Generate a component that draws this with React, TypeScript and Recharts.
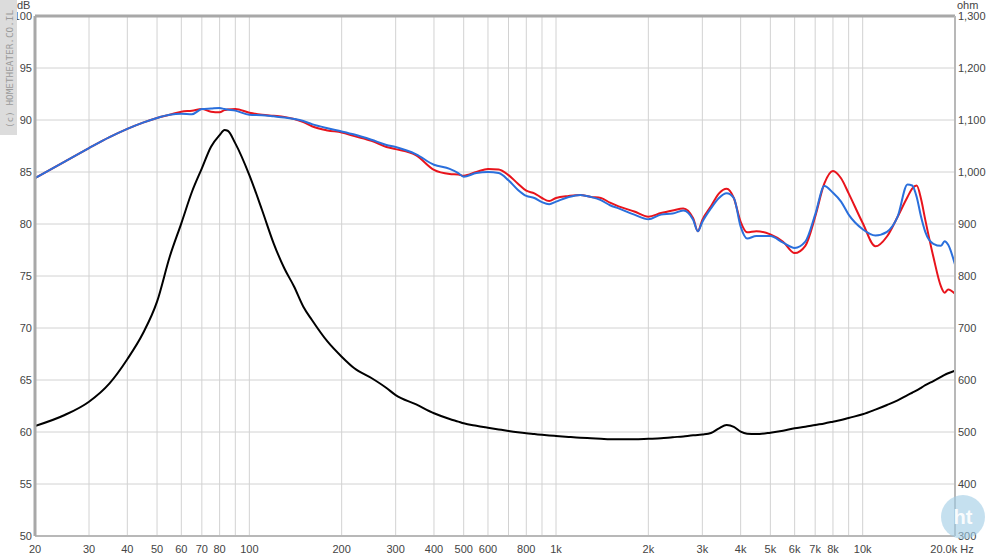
import {
  LineChart,
  Line,
  XAxis,
  YAxis,
  CartesianGrid,
  ReferenceLine,
} from "recharts";

// frequency points (Hz)
const freqs = [
  20, 25, 30, 35, 40, 45, 50, 55, 60, 65, 70, 75, 80, 83, 85, 90, 100, 110, 120,
  130, 140, 150, 160, 180, 200, 220, 250, 280, 300, 350, 400, 450, 480, 500,
  550, 600, 650, 700, 750, 800, 850, 900, 950, 1000, 1100, 1200, 1300, 1400,
  1500, 1600, 1800, 2000, 2200, 2400, 2600, 2800, 2900, 3000, 3200, 3400, 3600,
  3800, 4000, 4200, 4500, 5000, 5500, 6000, 6500, 7000, 7500, 8000, 8500, 9000,
  10000, 11000, 12000, 13000, 14000, 14500, 15000, 15500, 16000, 17000, 18000,
  18500, 19000, 20000,
];

// SPL, red trace (dB)
const redDb = [
  84.4, 86.0, 87.3, 88.35, 89.15, 89.75, 90.2, 90.5, 90.8, 90.9, 91.05, 90.8,
  90.75, 90.95, 91.0, 91.06, 90.7, 90.5, 90.4, 90.3, 90.1, 89.8, 89.4, 89.0,
  88.8, 88.45, 88.0, 87.4, 87.2, 86.6, 85.2, 84.8, 84.75, 84.65, 85.0, 85.3,
  85.25, 84.7, 83.9, 83.2, 82.95, 82.5, 82.2, 82.5, 82.7, 82.8, 82.6, 82.5,
  82.05, 81.7, 81.2, 80.7, 81.05, 81.3, 81.5, 80.55, 79.3, 80.4, 81.7, 82.95,
  83.4, 82.5, 80.2, 79.2, 79.3, 79.0, 78.3, 77.2, 77.9, 80.7, 83.9, 85.1, 84.4,
  82.95, 80.1, 77.85, 78.8, 80.7, 82.6, 83.4, 83.7, 82.4, 80.4, 76.85, 74.0,
  73.4, 73.7, 73.3,
];

// SPL, blue trace (dB)
const blueDb = [
  84.4, 86.0, 87.3, 88.35, 89.15, 89.75, 90.2, 90.5, 90.6, 90.55, 91.05, 91.1,
  91.15, 91.05, 91.0, 90.9, 90.5, 90.45, 90.35, 90.25, 90.1, 89.9, 89.6, 89.2,
  88.9, 88.6, 88.1, 87.6, 87.4, 86.7, 85.7, 85.3, 84.9, 84.55, 84.9, 85.0,
  84.9, 84.2, 83.3, 82.7, 82.5, 82.1, 81.9, 82.15, 82.6, 82.8, 82.6, 82.3,
  81.8, 81.5, 80.9, 80.45, 80.9, 81.0, 81.3, 80.4, 79.3, 80.2, 81.5, 82.5,
  82.95, 82.5, 79.75, 78.6, 78.85, 78.85, 78.2, 77.7, 78.3, 80.9, 83.65, 83.0,
  82.15, 80.9, 79.5, 78.9, 79.25, 80.7, 83.8, 83.7, 82.6, 80.7, 79.25, 78.1,
  77.9, 78.35, 78.0, 76.1,
];

// impedance, black trace (right axis)
const impedance = [
  511.5, 532.7, 558.3, 593.6, 640, 689.8, 750.6, 837, 901.3, 962, 1007, 1048.6,
  1071, 1080.7, 1079.4, 1055, 994, 927, 862.9, 814.8, 779.4, 741, 715.4, 673.6,
  644.8, 622.5, 603.8, 584.6, 571, 553, 536, 525, 520, 516.7, 512, 508.3, 505,
  502, 499.5, 497.5, 496, 494.5, 493.3, 492.3, 490.5, 489, 488, 487, 486, 486,
  486, 487, 488, 490, 491.5, 493.6, 494, 495, 498, 507, 513.5, 510, 500.6,
  496.7, 496, 498.7, 502.5, 507, 510, 513.5, 516.5, 519.8, 523, 527, 534, 543,
  552, 561, 571, 575.5, 580, 585, 590, 598, 606, 610, 613, 618,
];

const gridFreqs = [
  20, 30, 40, 50, 60, 70, 80, 90, 100, 200, 300, 400, 500, 600, 700, 800, 900,
  1000, 2000, 3000, 4000, 5000, 6000, 7000, 8000, 9000, 10000, 20000,
];
const freqLabels: Record<number, string> = {
  20: "20", 30: "30", 40: "40", 50: "50", 60: "60", 70: "70", 80: "80",
  100: "100", 200: "200", 300: "300", 400: "400", 500: "500", 600: "600",
  800: "800", 1000: "1k", 2000: "2k", 3000: "3k", 4000: "4k", 5000: "5k",
  6000: "6k", 7000: "7k", 8000: "8k", 10000: "10k", 20000: "20.0k Hz",
};
const dbTicks = [50, 55, 60, 65, 70, 75, 80, 85, 90, 95, 100];
const ohmTicks = [300, 400, 500, 600, 700, 800, 900, 1000, 1100, 1200, 1300];

const data = freqs.map((f, i) => ({
  f,
  red: redDb[i],
  blue: blueDb[i],
  imp: impedance[i],
}));

const FONT = "'Liberation Sans', Arial, sans-serif";

const FreqTick = (props: any) => {
  const { x, y, payload } = props;
  const label = freqLabels[payload.value];
  if (!label) return null;
  return (
    <text
      x={x}
      y={y}
      dy="0.71em"
      dx={payload.value === 20000 ? -3 : 0}
      textAnchor="middle"
      fontSize={11}
      fontFamily={FONT}
      fill="#444"
    >
      {label}
    </text>
  );
};

export default function App() {
  return (
    <div
      style={{
        position: "absolute",
        left: 0,
        top: 0,
        width: 1000,
        height: 557,
        background: "#fff",
      }}
    >
      <LineChart
        width={1000}
        height={557}
        data={data}
        margin={{ top: 16, right: 0, bottom: 0, left: 0 }}
      >
        <CartesianGrid yAxisId="db" stroke="#d2d2d2" strokeWidth={1} />
        <XAxis
          dataKey="f"
          type="number"
          scale="log"
          domain={[20, 20000]}
          ticks={gridFreqs}
          interval={0}
          height={21}
          tickSize={0}
          tickMargin={9}
          tick={<FreqTick />}
          axisLine={{ stroke: "#b8b8b8", strokeWidth: 2 }}
          allowDataOverflow
        />
        <YAxis
          yAxisId="db"
          orientation="left"
          domain={[50, 100]}
          ticks={dbTicks}
          width={35}
          tickSize={0}
          tickMargin={3}
          tick={{ fontSize: 11, fontFamily: FONT, fill: "#444" }}
          axisLine={{ stroke: "#a8a8a8", strokeWidth: 3 }}
          allowDataOverflow
        />
        <YAxis
          yAxisId="ohm"
          orientation="right"
          domain={[300, 1300]}
          ticks={ohmTicks}
          width={45}
          tickSize={0}
          tickMargin={3}
          tickFormatter={(v: number) => v.toLocaleString("en-US")}
          tick={{ fontSize: 11, fontFamily: FONT, fill: "#444", textAnchor: "start" }}
          axisLine={{ stroke: "#b8b8b8", strokeWidth: 2 }}
          allowDataOverflow
        />
        <ReferenceLine yAxisId="db" y={100} stroke="#a8a8a8" strokeWidth={3} />
        <Line
          yAxisId="ohm"
          dataKey="imp"
          type="monotone"
          stroke="#000"
          strokeWidth={2}
          dot={false}
          isAnimationActive={false}
        />
        <Line
          yAxisId="db"
          dataKey="red"
          type="monotone"
          stroke="#e8141c"
          strokeWidth={2}
          dot={false}
          isAnimationActive={false}
        />
        <Line
          yAxisId="db"
          dataKey="blue"
          type="monotone"
          stroke="#2a6fdc"
          strokeWidth={2}
          dot={false}
          isAnimationActive={false}
        />
      </LineChart>

      {/* watermark strip */}
      <svg width={17} height={135} style={{ position: "absolute", left: 0, top: 0 }}>
        <rect x={0} y={0} width={17} height={135} fill="#dcdcdc" />
        <text
          transform="translate(12.5,128) rotate(-90)"
          fontSize={9.5}
          fontFamily="'DejaVu Sans Mono', monospace"
          fill="#9a9a9a"
          textLength={118}
          lengthAdjust="spacingAndGlyphs"
        >
          (c) HOMETHEATER.CO.IL
        </text>
      </svg>

      <div
        style={{
          position: "absolute",
          left: 17,
          top: 0,
          fontSize: 11,
          lineHeight: "11px",
          fontFamily: FONT,
          color: "#444",
        }}
      >
        dB
      </div>
      <div
        style={{
          position: "absolute",
          left: 957,
          top: 0,
          fontSize: 11,
          lineHeight: "11px",
          fontFamily: FONT,
          color: "#444",
        }}
      >
        ohm
      </div>

      {/* logo badge */}
      <svg width={50} height={50} style={{ position: "absolute", left: 938, top: 492 }}>
        <circle cx={25} cy={25} r={22} fill="#9fcbe4" opacity={0.6} />
        <text
          x={25}
          y={32}
          textAnchor="middle"
          fontSize={20}
          fontWeight="bold"
          fontFamily={FONT}
          fill="#fff"
          opacity={0.9}
        >
          ht
        </text>
      </svg>
    </div>
  );
}
